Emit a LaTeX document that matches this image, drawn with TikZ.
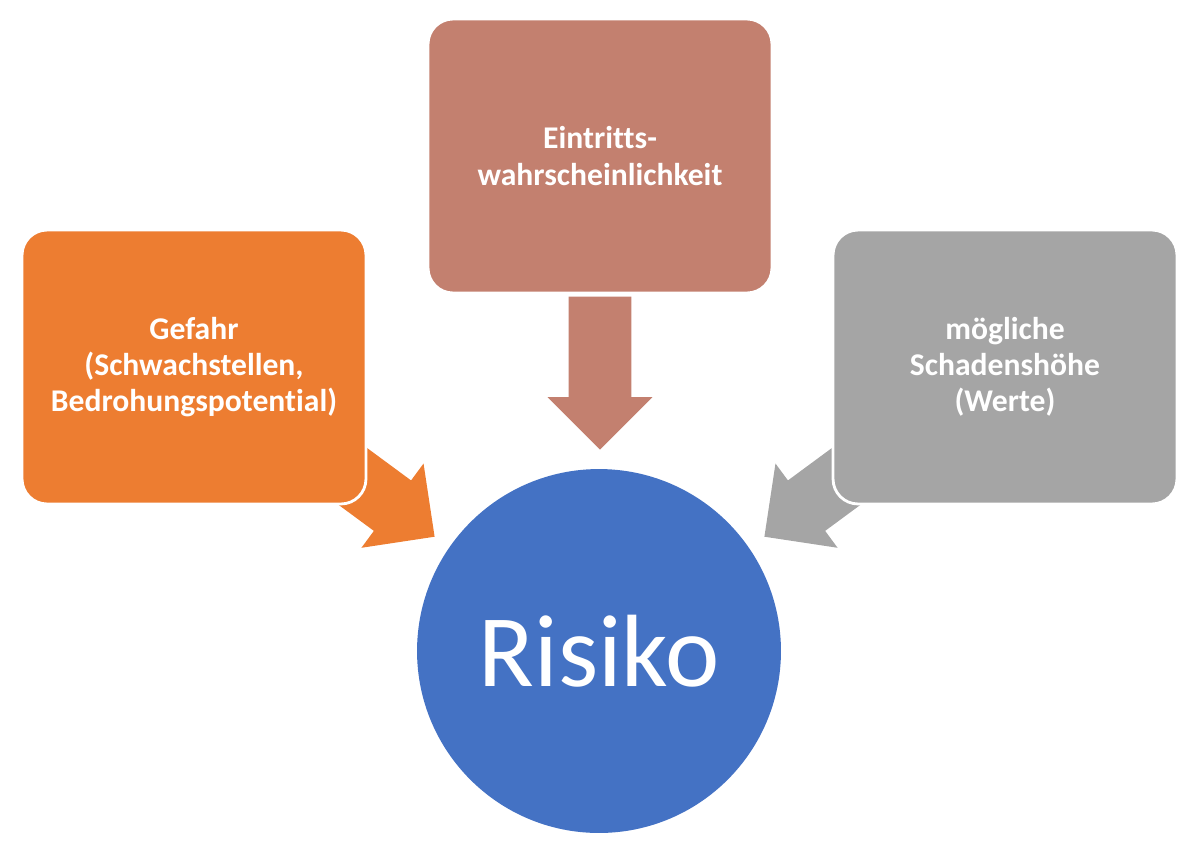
\documentclass[tikz,border=0pt]{standalone}
\usepackage{fontspec}
\setmainfont{Carlito}[Ligatures=NoCommon]
\usetikzlibrary{shapes.arrows}
\definecolor{gefahrfarbe}{HTML}{ED7D31}
\definecolor{eintrittfarbe}{HTML}{C3806F}
\definecolor{schadenfarbe}{HTML}{A5A5A5}
\definecolor{risikofarbe}{HTML}{4472C4}
\begin{document}
\begin{tikzpicture}[x=0.02cm, y=-0.02cm,
    kasten/.style={draw=white, line width=1.6pt, rounded corners=0.5cm,
      minimum width=6.88cm, minimum height=5.48cm, text=white, align=center,
      font=\bfseries\fontsize{18}{20.6}\selectfont},
    blockpfeil/.style={single arrow, inner xsep=0pt, inner ysep=0.62cm,
      minimum height=3.06cm, single arrow head extend=0.42cm,
      single arrow tip angle=90, anchor=tip}]
  \useasboundingbox (0,0) rectangle (1199,849);
  \coordinate (spitzeG) at (435,537);
  \coordinate (spitzeE) at (600,450);
  \coordinate (spitzeS) at (764,537);
  \node [blockpfeil, fill=gefahrfarbe, rotate=-36.4] (pfeilG) at (spitzeG) {};
  \node [blockpfeil, fill=eintrittfarbe, rotate=-90] (pfeilE) at (spitzeE) {};
  \node [blockpfeil, fill=schadenfarbe, rotate=-143.6] (pfeilS) at (spitzeS) {};
  \node [kasten, fill=gefahrfarbe] (gefahr) at (194,367)
    {Gefahr\\(Schwachstellen,\\Bedrohungspotential)};
  \node [kasten, fill=eintrittfarbe] (eintritt) at (600,156)
    {Eintritts-\\wahrscheinlichkeit};
  \node [kasten, fill=schadenfarbe] (schaden) at (1005,367)
    {mögliche\\Schadenshöhe\\(Werte)};
  \node [circle, fill=risikofarbe, minimum size=7.28cm, text=white,
    font=\fontsize{58.5}{64}\selectfont] (risiko) at (599,651) {Risiko};
\end{tikzpicture}
\end{document}
